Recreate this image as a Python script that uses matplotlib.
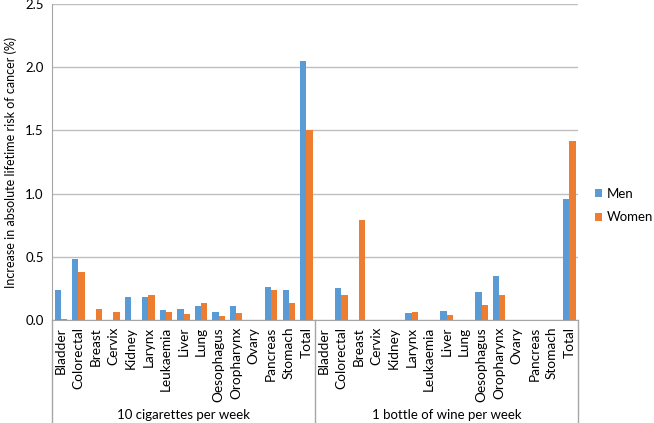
import matplotlib.pyplot as plt
import numpy as np

plt.rcParams['font.family'] = ['Lato', 'DejaVu Sans']

# categories, per exposure group
cancers_cig = ['Bladder', 'Colorectal', 'Breast', 'Cervix', 'Kidney', 'Larynx', 'Leukaemia',
               'Liver', 'Lung', 'Oesophagus', 'Oropharynx', 'Ovary', 'Pancreas', 'Stomach', 'Total']
cancers_wine = ['Bladder', 'Colorectal', 'Breast', 'Cervix', 'Kidney', 'Larynx', 'Leukaemia',
                'Liver', 'Lung', 'Oesophagus', 'Oropharynx', 'Ovary', 'Pancreas', 'Stomach', 'Total']
groups = ['10 cigarettes per week', '1 bottle of wine per week']

# values (%)
men_cig = [0.24, 0.48, 0.0, 0.0, 0.18, 0.18, 0.08, 0.09, 0.11, 0.06, 0.11, 0.0, 0.26, 0.235, 2.05]
women_cig = [0.01, 0.38, 0.09, 0.066, 0.0, 0.20, 0.066, 0.047, 0.137, 0.032, 0.058, 0.0, 0.235, 0.137, 1.5]
men_wine = [0.0, 0.25, 0.0, 0.0, 0.0, 0.058, 0.0, 0.074, 0.0, 0.22, 0.35, 0.0, 0.0, 0.0, 0.96]
women_wine = [0.0, 0.2, 0.79, 0.0, 0.0, 0.066, 0.0, 0.04, 0.0, 0.12, 0.2, 0.0, 0.0, 0.0, 1.42]

labels = cancers_cig + cancers_wine
men = men_cig + men_wine
women = women_cig + women_wine
x = np.arange(len(labels))

blue = '#5B9BD5'
orange = '#ED7D31'
grid_col = '#BFBFBF'

fig = plt.figure(figsize=(6.54, 4.23), dpi=100)
ax = fig.add_axes([0.0795, 0.2435, 0.8045, 0.747])

w = 0.355
ax.bar(x - w / 2, men, width=w, color=blue, label='Men', zorder=3)
ax.bar(x + w / 2, women, width=w, color=orange, label='Women', zorder=3)

ax.set_xlim(-0.5, len(labels) - 0.5)
ax.set_ylim(0, 2.5)
ax.set_yticks(np.arange(0, 2.51, 0.5))
ax.set_yticklabels([f'{v:.1f}' for v in np.arange(0, 2.51, 0.5)], fontsize=9.5)
ax.yaxis.grid(True, color=grid_col, linewidth=1.0, zorder=0)
ax.tick_params(axis='y', length=0, pad=6)
ax.set_ylabel('Increase in absolute lifetime risk of cancer (%)', fontsize=9, labelpad=6)

ax.set_xticks(x)
ax.set_xticklabels(labels, rotation=90, fontsize=9.8, va='top')
ax.tick_params(axis='x', length=0, pad=5)

for s in ['top', 'right']:
    ax.spines[s].set_visible(False)
ax.spines['left'].set_color('#A6A6A6')
ax.spines['bottom'].set_color('#A6A6A6')

# group separators and group labels under the axis
n = len(cancers_cig)
for xb in [-0.5, n - 0.5, len(labels) - 0.5]:
    ax.plot([xb, xb], [0, -0.33], color='#A6A6A6', linewidth=1.0,
            transform=ax.get_xaxis_transform(), clip_on=False)
for i, g in enumerate(groups):
    ax.text(i * n + (n - 1) / 2, -0.30, g, transform=ax.get_xaxis_transform(),
            ha='center', va='center', fontsize=9.5)

ax.legend(loc='center left', bbox_to_anchor=(1.032, 0.362), frameon=False, fontsize=9.5,
          handlelength=0.55, handleheight=0.55, handletextpad=0.35, labelspacing=0.85,
          borderaxespad=0, borderpad=0)

fig.savefig('out.png', dpi=100)
